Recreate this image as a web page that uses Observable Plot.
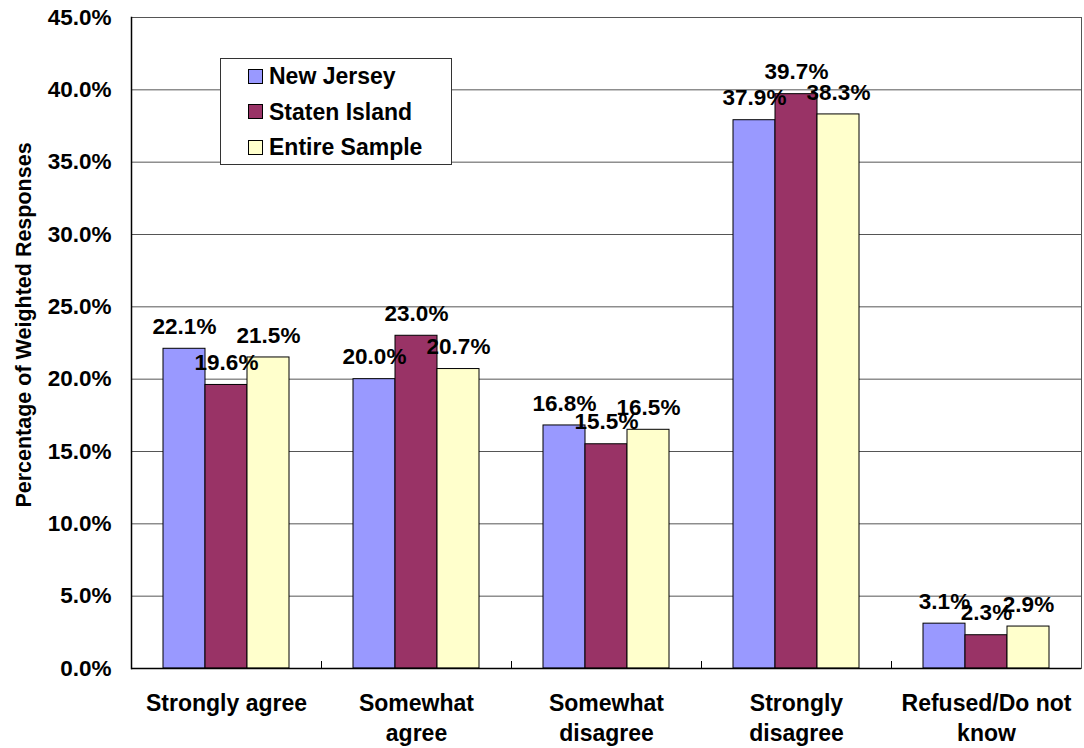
<!DOCTYPE html>
<html>
<head>
<meta charset="utf-8">
<script src="https://cdn.jsdelivr.net/npm/d3@7"></script>
<script src="https://cdn.jsdelivr.net/npm/@observablehq/plot@0.6"></script>
<style>
  html, body { margin: 0; padding: 0; background: #fff; }
  #wrap { position: relative; width: 1084px; height: 748px; font-family: "Liberation Sans", Arial, sans-serif; }
  #legend { position: absolute; left: 220px; top: 58px; width: 232px; height: 107px; border: 1px solid #333; background: #fff; box-sizing: border-box; }
  .item { position: absolute; left: 27px; display: flex; align-items: center; font-weight: bold; font-size: 23px; color: #000; line-height: 28px; }
  .sw { width: 15px; height: 15px; border: 1px solid #000; box-sizing: border-box; margin-right: 6px; }
  #ytitle { position: absolute; left: 24px; top: 325px; transform: translate(-50%, -50%) rotate(-90deg); white-space: nowrap; font-weight: bold; font-size: 21.5px; color: #000; }
</style>
</head>
<body>
<div id="wrap"></div>
<script>
const categories = ["Strongly agree", "Somewhat agree", "Somewhat disagree", "Strongly disagree", "Refused/Do not know"];
const categoryLabels = ["Strongly agree", "Somewhat\nagree", "Somewhat\ndisagree", "Strongly\ndisagree", "Refused/Do not\nknow"];
const series = ["New Jersey", "Staten Island", "Entire Sample"];
const colors = ["#9999FF", "#993366", "#FFFFCC"];
const newJersey = [22.1, 20.0, 16.8, 37.9, 3.1];
const statenIsland = [19.6, 23.0, 15.5, 39.7, 2.3];
const entireSample = [21.5, 20.7, 16.5, 38.3, 2.9];
const yTicks = [0, 5, 10, 15, 20, 25, 30, 35, 40, 45];
const yTitle = "Percentage of Weighted Responses";

const seriesValues = [newJersey, statenIsland, entireSample];
const data = [];
categories.forEach((c, i) => series.forEach((s, j) => data.push({category: c, series: s, value: seriesValues[j][i]})));
const labelOf = new Map(categories.map((c, i) => [c, categoryLabels[i]]));

function boundaryTicks(index, scales, values, dims) {
  const g = d3.create("svg:g");
  const fx = scales.fx;
  if (!fx || !scales.y) return g.node();
  const y0 = scales.y(0);
  categories.forEach((c, i) => {
    if (i === 0) return;
    const x = Math.round(fx(c)) + 0.5;
    g.append("line").attr("x1", x).attr("x2", x).attr("y1", y0 - 7).attr("y2", y0).attr("stroke", "#000");
  });
  return g.node();
}

const chart = Plot.plot({
  width: 1084,
  height: 748,
  marginLeft: 130,
  marginRight: 2,
  marginTop: 17,
  marginBottom: 80,
  style: {fontFamily: "'Liberation Sans', Arial, sans-serif", fontSize: "22px", fontWeight: "bold", color: "#000", background: "#fff", overflow: "visible"},
  fx: {domain: categories, padding: 0, axis: null},
  x: {domain: series, paddingInner: 0, paddingOuter: 0.74, axis: null},
  y: {domain: [0, 45], axis: null},
  color: {domain: series, range: colors},
  marks: [
    Plot.ruleY(yTicks.slice(1), {y: d => d, stroke: "#555", strokeWidth: 1}),
    Plot.barY(data, {fx: "category", x: "series", y: "value", fill: "series", stroke: "#000", strokeWidth: 1}),
    Plot.text(data, {fx: "category", x: "series", y: "value", text: d => d.value.toFixed(1) + "%", dy: -22, lineAnchor: "middle", fontSize: 22.5, fontWeight: "bold", fill: "#000"}),
    Plot.ruleY([0], {stroke: "#000", strokeWidth: 1.5}),
    Plot.frame({facet: "super", anchor: "left", stroke: "#000", strokeWidth: 1.5}),
    Plot.frame({facet: "super", anchor: "right", stroke: "#555"}),
    Plot.frame({facet: "super", render: boundaryTicks}),
    Plot.axisY(yTicks, {anchor: "left", tickSize: 0, tickPadding: 20, tickFormat: d => d.toFixed(1) + "%", fontSize: 22.5, fontWeight: "bold", label: null}),
    Plot.axisFx({anchor: "bottom", tickSize: 0, tickPadding: 21, tickFormat: d => labelOf.get(d), fontSize: 23, fontWeight: "bold", lineHeight: 1.32, label: null})
  ]
});

const wrap = document.getElementById("wrap");
wrap.appendChild(chart);

const title = document.createElement("div");
title.id = "ytitle";
title.textContent = yTitle;
wrap.appendChild(title);

const legend = document.createElement("div");
legend.id = "legend";
series.forEach((s, j) => {
  const it = document.createElement("div");
  it.className = "item";
  it.style.top = (3 + j * 35.5) + "px";
  const sw = document.createElement("div");
  sw.className = "sw";
  sw.style.background = colors[j];
  const t = document.createElement("span");
  t.textContent = s;
  it.appendChild(sw);
  it.appendChild(t);
  legend.appendChild(it);
});
wrap.appendChild(legend);
</script>
</body>
</html>
